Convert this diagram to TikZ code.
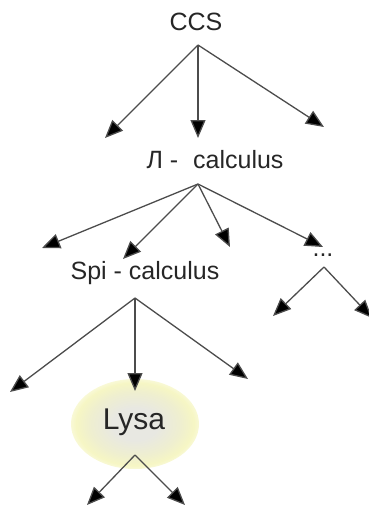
\documentclass[tikz,border=0pt]{standalone}
\usepackage{fontspec}
\setmainfont{Liberation Sans}
\usetikzlibrary{arrows.meta,shapes.geometric}
\definecolor{lyc}{HTML}{E8E8E2}
\definecolor{lym}{HTML}{EFEFCF}
\definecolor{lyo}{HTML}{F6F6C4}
\pgfdeclareradialshading{lysash}{\pgfpoint{0bp}{0bp}}{color(0bp)=(lyc); color(9bp)=(lyc); color(18bp)=(lym); color(23bp)=(lyo); color(25bp)=(lyo!70!white); color(50bp)=(white)}
\tikzset{
  lbl/.style={inner sep=0pt, text=black!85, font=\fontsize{25}{30}\selectfont},
  arr/.style={draw=black!70, line width=1.3pt, -{Triangle[length=18pt,width=15pt,fill=black]}},
}
\begin{document}
\begin{tikzpicture}[x=1pt,y=-1pt]
\useasboundingbox (0,0) rectangle (369,507);
\clip (0,0) rectangle (369,507);
% nodes
\node[lbl] (ccs) at (196,22) {CCS};
\node[lbl] (pi) at (215,160) {Л -\hspace{0.6em}calculus};
\node[lbl] (spi) at (145,273) {Spi - calculus};
\node[lbl] (dots) at (323,255) {...};
\node[ellipse, minimum width=128pt, minimum height=90pt, inner sep=0pt,
      shading=lysash] (lysa) at (135,424) {};
\node[lbl, font=\fontsize{30}{36}\selectfont] (lysat) at (134,422) {Lysa};
% origins
\coordinate (o1) at (198,45);
\coordinate (o2) at (198,184);
\coordinate (o3) at (324,267);
\coordinate (o4) at (135,298);
\coordinate (o5) at (135,455);
% tips
\coordinate (t11) at (105,138);
\coordinate (t12) at (198,138);
\coordinate (t13) at (324,127);
\coordinate (t21) at (42,248);
\coordinate (t22) at (123,259);
\coordinate (t23) at (230,247);
\coordinate (t24) at (323,247);
\coordinate (t31) at (273,316);
\coordinate (t32) at (372,318);
\coordinate (t41) at (10,392);
\coordinate (t42) at (135,391);
\coordinate (t43) at (248,379);
\coordinate (t51) at (87,505);
\coordinate (t52) at (185,505);
% arrows
\foreach \t in {t11,t12,t13} \draw[arr] (o1) -- (\t);
\foreach \t in {t21,t22,t23,t24} \draw[arr] (o2) -- (\t);
\foreach \t in {t31,t32} \draw[arr] (o3) -- (\t);
\foreach \t in {t41,t42,t43} \draw[arr] (o4) -- (\t);
\foreach \t in {t51,t52} \draw[arr] (o5) -- (\t);
\end{tikzpicture}
\end{document}
